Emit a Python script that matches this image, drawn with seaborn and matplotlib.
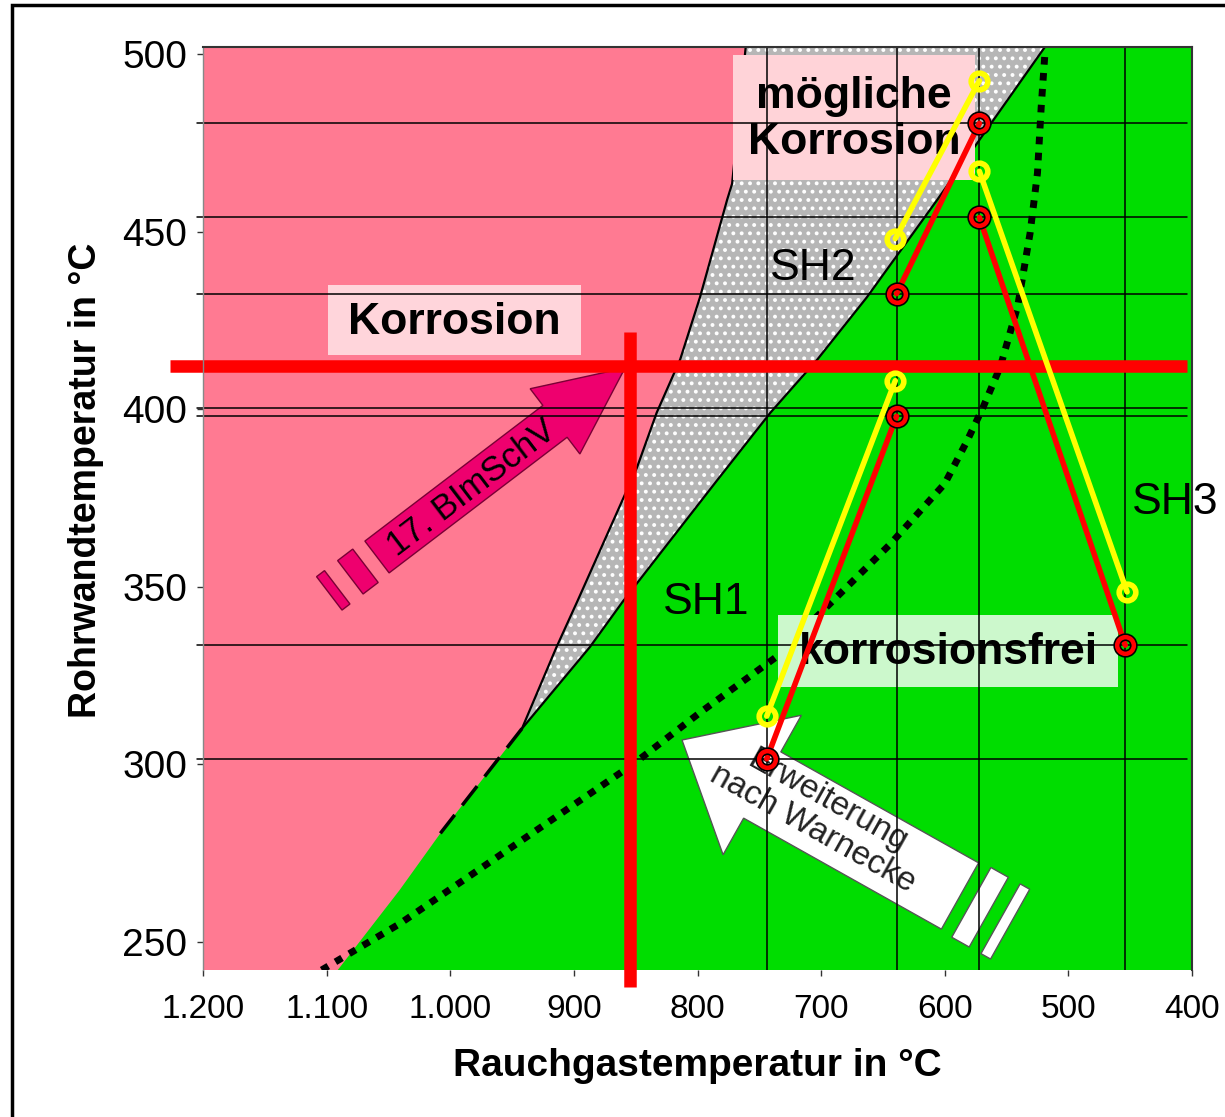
import numpy as np
import pandas as pd
import matplotlib
matplotlib.use("Agg")
import matplotlib.pyplot as plt
from matplotlib.patches import Polygon, Rectangle
from matplotlib import font_manager
import seaborn as sns

# --- Achsen ---
x_ticks = [1200, 1100, 1000, 900, 800, 700, 600, 500, 400]
x_tick_labels = ["1.200", "1.100", "1.000", "900", "800", "700", "600", "500", "400"]
y_ticks = [250, 300, 350, 400, 450, 500]

# --- Überhitzer: Rauchgastemperatur / Rohrwandtemperatur (Ein- und Austritt) ---
stage = ["SH1", "SH1", "SH2", "SH2", "SH3", "SH3"]
gas_red = [744, 639, 639, 572, 572, 454]
wall_red = [301.5, 398, 432.5, 480.5, 454, 333.5]
gas_yellow = [744, 640, 640, 572, 572, 452.5]
wall_yellow = [313.5, 408, 448, 492.5, 467, 348.5]

# Grenze Korrosion / mögliche Korrosion
pg_x = [761, 772, 776, 798, 814, 833, 849, 897, 914, 942]
pg_y = [502, 463.5, 459, 431.5, 414, 399, 383.5, 346, 333, 310]
# Grenze mögliche Korrosion / korrosionsfrei
gg_x = [519, 606, 663, 703, 741, 784, 860, 887, 942]
gg_y = [502, 459, 431.5, 414, 399, 380, 346, 333, 310]
# Grenze Korrosion / korrosionsfrei (unten)
pk_x = [942, 1008, 1041, 1091]
pk_y = [310, 280.5, 264.5, 242]
# gepunktete Kurve
dot_x = [1104, 1041, 852, 798, 737, 644, 600, 582, 569, 555, 541, 531, 525, 522, 519]
dot_y = [242, 255, 300, 314.5, 330, 362, 379, 391, 400.5, 412, 429, 449.5, 466.5, 485, 500]

# Hilfslinien
h_lines = [480.5, 454, 432.5, 400.3, 398, 333.5, 301.5]
v_lines = [744, 639, 572, 454]
design_gas = 855
design_wall = 412

W, H = 1225, 1117


def px(pts):
    return [(x / W, 1 - y / H) for x, y in pts]


def arrow_pts(tail, tip, body_hw, head_hw, head_len):
    t = np.array(tail, float)
    p = np.array(tip, float)
    u = (p - t) / np.linalg.norm(p - t)
    n = np.array([-u[1], u[0]])
    h = p - u * head_len
    return [t + n * body_hw, h + n * body_hw, h + n * head_hw, p,
            h - n * head_hw, h - n * body_hw, t - n * body_hw]


def stripe_pts(tail, tip, dist, width, hw):
    t = np.array(tail, float)
    p = np.array(tip, float)
    u = (p - t) / np.linalg.norm(p - t)
    n = np.array([-u[1], u[0]])
    c = t - u * dist
    return [c + u * width / 2 + n * hw, c - u * width / 2 + n * hw,
            c - u * width / 2 - n * hw, c + u * width / 2 - n * hw]


def angle(tail, tip):
    return np.degrees(np.arctan2(-(tip[1] - tail[1]), tip[0] - tail[0]))


sns.set_style("ticks")
plt.rcParams["font.family"] = ["Liberation Sans", "DejaVu Sans"]
plt.rcParams["hatch.linewidth"] = 1.6
for key in ["text.color", "axes.labelcolor", "xtick.color", "ytick.color"]:
    plt.rcParams[key] = "black"

fig = plt.figure(figsize=(12.25, 11.17), dpi=100)
ax = fig.add_axes([203 / W, 1 - 970 / H, 989 / W, 923 / H])
ax.set_facecolor("#00dd00")

# Flächen
ax.fill([1200] + pg_x + pk_x[1:] + [1200], [502] + pg_y + pk_y[1:] + [242],
        color="#ff7a92", lw=0, zorder=0.5)
ax.fill(pg_x + gg_x[::-1], pg_y + gg_y[::-1], facecolor="#b6b6b6",
        edgecolor="white", hatch="..", lw=0, zorder=0.6)

# Grenzlinien
ax.plot(pg_x, pg_y, color="black", lw=1.6, zorder=1)
ax.plot(gg_x, gg_y, color="black", lw=1.6, zorder=1)
ax.plot(pk_x[:2], pk_y[:2], color="black", lw=2.5, ls=(0, (7, 3.5)), zorder=1)
sns.lineplot(x=dot_x, y=dot_y, sort=False, color="black", lw=5,
             ls=(0, (1.1, 1.2)), ax=ax, zorder=1.2)

# Textboxen
boxes = [((328, 285, 581, 355), "#ffd5db", "Korrosion"),
         ((733, 55, 975, 180), "#ffd3d8", "mögliche\nKorrosion"),
         ((778, 615, 1118, 687), "#ccf8cc", "korrosionsfrei")]
for (x0, y0, x1, y1), fc, label in boxes:
    ax.add_patch(Rectangle((x0 / W, 1 - y1 / H), (x1 - x0) / W, (y1 - y0) / H,
                           transform=fig.transFigure, facecolor=fc, lw=0, zorder=2))
    ax.text((x0 + x1) / 2 / W, 1 - ((y0 + y1) / 2 + 2) / H, label,
            transform=fig.transFigure, ha="center", va="center", fontsize=32,
            fontweight="bold", linespacing=1.17, zorder=2.1)

# Pfeil 17. BImSchV
p_tail, p_tip = (377, 557), (625, 368)
ax.add_patch(Polygon(px(arrow_pts(p_tail, p_tip, 20, 41, 88)), closed=True,
                     transform=fig.transFigure, facecolor="#ee006e",
                     edgecolor="#7a0035", lw=1, zorder=2))
for d, w in [(24, 19), (55, 10)]:
    ax.add_patch(Polygon(px(stripe_pts(p_tail, p_tip, d, w, 21)), closed=True,
                         transform=fig.transFigure, facecolor="#ee006e",
                         edgecolor="#7a0035", lw=1, zorder=2))
ax.text(472 / W, 1 - 488 / H, "17. BImSchV", transform=fig.transFigure,
        rotation=angle(p_tail, p_tip), rotation_mode="anchor", ha="center",
        va="center", fontsize=25, color="black", zorder=2.1)

# Pfeil Erweiterung nach Warnecke
w_tail, w_tip = (960, 896), (682, 740)
ax.add_patch(Polygon(px(arrow_pts(w_tail, w_tip, 38, 80, 92)), closed=True,
                     transform=fig.transFigure, facecolor="white",
                     edgecolor="#555555", lw=1, zorder=2))
for d, w in [(23, 20), (52, 11)]:
    ax.add_patch(Polygon(px(stripe_pts(w_tail, w_tip, d, w, 40)), closed=True,
                         transform=fig.transFigure, facecolor="white",
                         edgecolor="#555555", lw=1, zorder=2))
ax.text(820 / W, 1 - 815 / H, "Erweiterung\nnach Warnecke", transform=fig.transFigure,
        rotation=angle(w_tip, w_tail), rotation_mode="anchor", ha="center",
        va="center", multialignment="center", fontsize=24, color="#222222",
        linespacing=1.0, zorder=2.1)

# Hilfslinien
for yv in h_lines:
    ax.axhline(yv, xmin=-0.006, xmax=0.995, color="black", lw=1.1,
               clip_on=False, zorder=3)
for xv in v_lines:
    ax.axvline(xv, color="black", lw=1.1, zorder=3)

# Auslegungspunkt
ax.axhline(design_wall, xmin=-0.0334, xmax=0.995, color="#ff0000", lw=9,
           clip_on=False, zorder=3.5, solid_capstyle="butt")
ax.axvline(design_gas, ymin=-0.018, ymax=0.691, color="#ff0000", lw=9,
           clip_on=False, zorder=3.5, solid_capstyle="butt")

# Überhitzer-Linien
df = pd.DataFrame({
    "Stufe": stage * 2,
    "Variante": ["gelb"] * 6 + ["rot"] * 6,
    "Rauchgas": gas_yellow + gas_red,
    "Rohrwand": wall_yellow + wall_red,
})
sns.lineplot(data=df, x="Rauchgas", y="Rohrwand", hue="Variante", units="Stufe",
             estimator=None, sort=False, hue_order=["gelb", "rot"],
             palette={"gelb": "#ffff00", "rot": "#ff0000"}, lw=4, legend=False,
             ax=ax, zorder=4)
ax.plot(gas_yellow, wall_yellow, ls="none", marker="o", ms=12, mfc="none",
        mec="#ffff00", mew=4, zorder=5)
ax.plot(gas_red, wall_red, ls="none", marker="o", ms=12, mfc="none",
        mec="black", mew=5.5, zorder=5)
ax.plot(gas_red, wall_red, ls="none", marker="o", ms=12, mfc="none",
        mec="#ff0000", mew=3.2, zorder=5.1)

# Beschriftungen SH
for (x, y), label in [((706, 603), "SH1"), ((813, 268), "SH2"), ((1175, 503), "SH3")]:
    ax.text(x / W, 1 - y / H, label, transform=fig.transFigure, ha="center",
            va="center", fontsize=32, zorder=6)

# Achsen
ax.set_xlim(1200, 400)
ax.set_ylim(242, 502)
ax.set_xticks(x_ticks)
ax.set_xticklabels(x_tick_labels)
ax.set_yticks(y_ticks)
ax.tick_params(axis="x", length=4.3, width=1, pad=13, labelsize=24, color="#333333")
ax.tick_params(axis="y", length=4.3, width=1, pad=7, labelsize=28, color="#333333")
ax.set_xlabel("Rauchgastemperatur in °C", fontsize=28, fontweight="bold")
ax.set_ylabel("Rohrwandtemperatur in °C", fontsize=27, fontweight="bold")
ax.xaxis.set_label_coords(0.5, -0.0845)
ax.yaxis.set_label_coords(-0.100, 0.531)
for side in ["top", "right"]:
    ax.spines[side].set_color("#333333")
    ax.spines[side].set_linewidth(1.5)
ax.spines["left"].set_color("#888888")
ax.spines["left"].set_linewidth(1)
ax.spines["bottom"].set_visible(False)
for s in ax.spines.values():
    s.set_zorder(6)

# Rahmen
fig.patches.append(Rectangle((12 / W, -0.1), 1.2, 1.1 - 5 / H, transform=fig.transFigure,
                             fill=False, edgecolor="black", lw=2.5, figure=fig))

fig.savefig("out.png", dpi=100)
